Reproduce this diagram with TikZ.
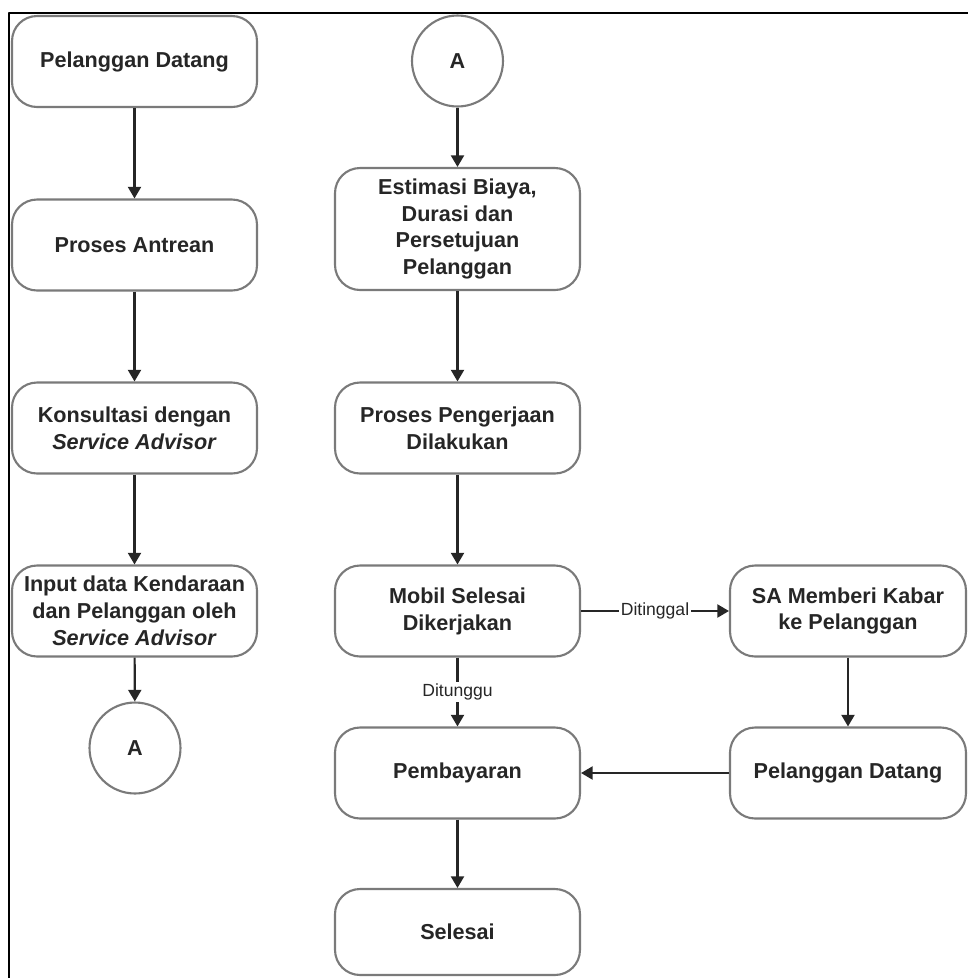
\documentclass[tikz,border=0pt]{standalone}
\usepackage{fontspec}
\setmainfont{Liberation Sans}
\usetikzlibrary{arrows.meta}
\definecolor{boxline}{HTML}{7A7A7A}
\definecolor{ink}{HTML}{262626}
\begin{document}
\begin{tikzpicture} [x=0.02cm, y=-0.02cm, line join=round, >={Triangle[width=7.4pt,length=6.6pt]},
 proc/.style={draw=boxline, line width=1.2pt, fill=white, rounded corners=0.5cm, align=center, text=ink, font=\fontsize{12.3}{15.3}\selectfont\bfseries, minimum width=4.9cm, minimum height=1.82cm, inner sep=2pt},
 conn/.style={draw=boxline, line width=1.2pt, fill=white, circle, text=ink, font=\fontsize{12.3}{15.3}\selectfont\bfseries, minimum size=1.82cm},
 arr/.style={->, draw=ink, line width=1.2pt},
 lbl/.style={fill=white, inner sep=1pt, text=ink, font=\fontsize{10}{12}\selectfont}]
 \useasboundingbox (0,0) rectangle (968,978);
 \draw[line width=1.7pt] (9,978)--(9,13)--(968,13);
 % left column
 \node[proc] (datang) at (134.5,61.5) {Pelanggan Datang};
 \node[proc] (antre) at (134.5,245) {Proses Antrean};
 \node[proc] (konsul) at (134.5,428) {Konsultasi dengan\\\textit{Service Advisor}};
 \node[proc] (input) at (134.5,611) {Input data Kendaraan\\dan Pelanggan oleh\\\textit{Service Advisor}};
 \node[conn] (keA) at (135,748) {A};
 % right column
 \node[conn] (dariA) at (457.5,61) {A};
 \node[proc, minimum height=2.44cm] (estimasi) at (457.5,229) {Estimasi Biaya,\\Durasi dan\\Persetujuan\\Pelanggan};
 \node[proc] (kerja) at (457.5,428) {Proses Pengerjaan\\Dilakukan};
 \node[proc] (mobil) at (457.5,611) {Mobil Selesai\\Dikerjakan};
 \node[proc, minimum width=4.72cm] (kabar) at (848,611) {SA Memberi Kabar\\ke Pelanggan};
 \node[proc] (bayar) at (457.5,773) {Pembayaran};
 \node[proc, minimum width=4.72cm] (datang2) at (848,773) {Pelanggan Datang};
 \node[proc, minimum height=1.72cm] (selesai) at (457.5,932) {Selesai};
 % connectors
 \draw[arr] (datang)--(antre);
 \draw[arr] (antre)--(konsul);
 \draw[arr] (konsul)--(input);
 \draw[arr] (input)--(keA);
 \draw[arr] (dariA)--(estimasi);
 \draw[arr] (estimasi)--(kerja);
 \draw[arr] (kerja)--(mobil);
 \draw[arr] (mobil)-- node[lbl]{Ditinggal} (kabar);
 \draw[arr] (mobil)-- node[lbl]{Ditunggu} (bayar);
 \draw[arr] (kabar)--(datang2);
 \draw[arr] (datang2)--(bayar);
 \draw[arr] (bayar)--(selesai);
\end{tikzpicture}
\end{document}
